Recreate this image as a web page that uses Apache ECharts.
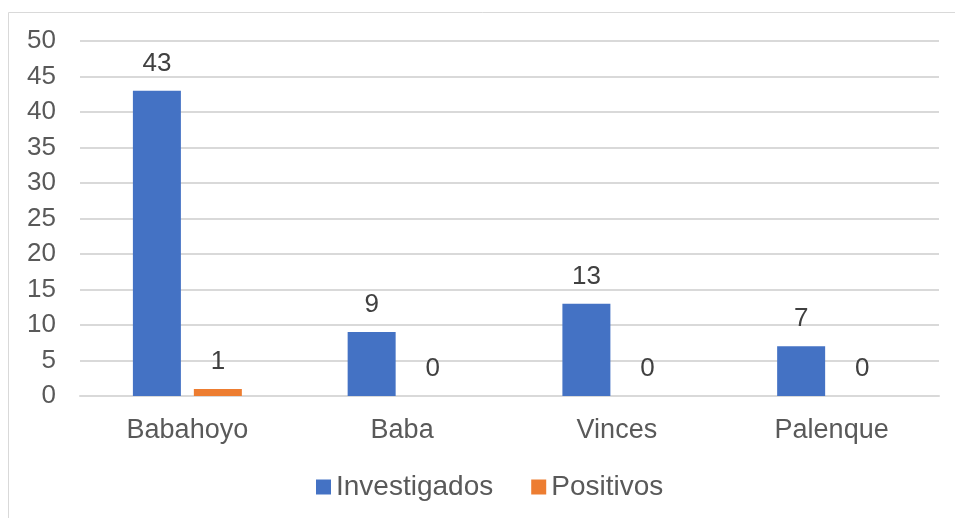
<!DOCTYPE html>
<html>
<head>
<meta charset="utf-8">
<script src="https://cdn.jsdelivr.net/npm/echarts@6/dist/echarts.min.js"></script>
<style>
  html, body { margin: 0; padding: 0; background: #fff; }
  #main { width: 955px; height: 518px; }
</style>
</head>
<body>
<div id="main"></div>
<script>
// datos
var categorias = ['Babahoyo', 'Baba', 'Vinces', 'Palenque'];
var investigados = [43, 9, 13, 7];
var positivos = [1, 0, 0, 0];
var ticksY = [0, 5, 10, 15, 20, 25, 30, 35, 40, 45, 50];

var chart = echarts.init(document.getElementById('main'));
var fuente = 'Liberation Sans, Arial, sans-serif';

var etiqueta = {
    show: true,
    position: 'top',
    distance: 14,
    color: '#404040',
    fontSize: 26,
    fontFamily: fuente
};

chart.setOption({
    animation: false,
    graphic: [{
        type: 'rect',
        shape: { x: 8.5, y: 12.5, width: 960, height: 520 },
        style: { fill: 'none', stroke: '#d9d9d9', lineWidth: 1 },
        silent: true
    }],
    grid: { left: 80, right: 16, top: 41, bottom: 122 },
    legend: {
        top: 468,
        left: 311,
        itemWidth: 15,
        itemHeight: 15,
        itemGap: 38,
        icon: 'rect',
        textStyle: { color: '#595959', fontSize: 28, fontFamily: fuente, padding: [0, 0, 0, 0] },
        data: ['Investigados', 'Positivos']
    },
    xAxis: {
        type: 'category',
        data: categorias,
        axisLine: { lineStyle: { color: '#d9d9d9', width: 2 } },
        axisTick: { show: false },
        axisLabel: { color: '#595959', fontSize: 27, fontFamily: fuente, margin: 21 }
    },
    yAxis: {
        type: 'value',
        min: ticksY[0],
        max: ticksY[ticksY.length - 1],
        interval: 5,
        axisLine: { show: false },
        axisTick: { show: false },
        axisLabel: { color: '#595959', fontSize: 26, fontFamily: fuente, margin: 24 },
        splitLine: { lineStyle: { color: '#d9d9d9', width: 2 } }
    },
    series: [{
        name: 'Investigados',
        type: 'bar',
        data: investigados,
        barWidth: 48,
        barGap: '27%',
        itemStyle: { color: '#4472C4' },
        label: etiqueta
    }, {
        name: 'Positivos',
        type: 'bar',
        data: positivos,
        barWidth: 48,
        itemStyle: { color: '#ED7D31' },
        label: etiqueta
    }]
});
</script>
</body>
</html>
